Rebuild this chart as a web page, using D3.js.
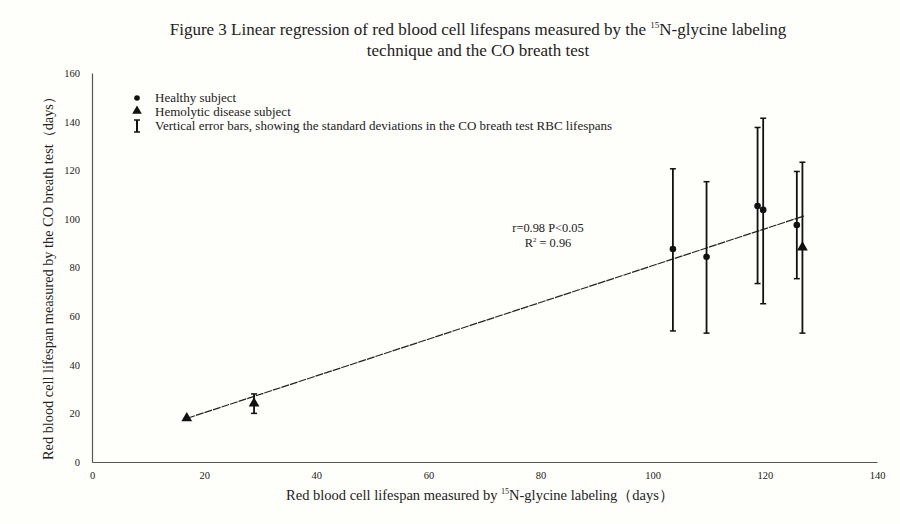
<!DOCTYPE html>
<html>
<head>
<meta charset="utf-8">
<script src="https://cdn.jsdelivr.net/npm/d3@7"></script>
<style>
  body { margin: 0; background: #fefefb; }
  text { font-family: "Liberation Serif", "DejaVu Serif", serif; fill: #222; }
</style>
</head>
<body>
<script>
// Data
const healthyX = [103.6, 109.6, 118.7, 119.7, 125.7];
const healthyY = [87.6, 84.4, 105.3, 103.7, 97.5];
const healthyLo = [53.9, 53.0, 73.4, 65.1, 75.4];
const healthyHi = [120.6, 115.3, 137.6, 141.4, 119.5];

const hemoX = [16.9, 28.9, 126.7];
const hemoY = [18.0, 24.1, 88.3];
const hemoLo = [18.0, 20.0, 53.0];
const hemoHi = [18.0, 28.0, 123.3];

const fitX = [17, 127];
const fitY = [18.0, 101.2];

const xTicks = [0, 20, 40, 60, 80, 100, 120, 140];
const yTicks = [0, 20, 40, 60, 80, 100, 120, 140, 160];

const svg = d3.select("body").append("svg")
    .attr("width", 900)
    .attr("height", 524);

const x = d3.scaleLinear().domain([0, 140]).range([92, 877]);
const y = d3.scaleLinear().domain([0, 160]).range([462, 73]);

// Title
const title = svg.append("text")
    .attr("x", 478)
    .attr("y", 35)
    .attr("text-anchor", "middle")
    .style("font-size", "17px");
title.append("tspan").text("Figure 3 Linear regression of red blood cell lifespans measured by the ");
title.append("tspan").text("15").style("font-size", "9px").attr("dy", -7);
title.append("tspan").text("N-glycine labeling").attr("dy", 7);
svg.append("text")
    .attr("x", 478)
    .attr("y", 56)
    .attr("text-anchor", "middle")
    .style("font-size", "17px")
    .text("technique and the CO breath test");

// Axes
const xAxis = svg.append("g")
    .attr("transform", "translate(0,462)")
    .call(d3.axisBottom(x).tickValues(xTicks).tickSize(0).tickPadding(10));
const yAxis = svg.append("g")
    .attr("transform", "translate(92,0)")
    .call(d3.axisLeft(y).tickValues(yTicks).tickSize(0).tickPadding(12));
[xAxis, yAxis].forEach(g => {
    g.select(".domain").attr("stroke", "#555").attr("stroke-width", 1.2);
    g.selectAll("text")
        .style("font-family", "Liberation Serif, serif")
        .style("font-size", "10.5px")
        .attr("fill", "#333");
});

// Axis labels
const xl = svg.append("text")
    .attr("x", 480)
    .attr("y", 500)
    .attr("text-anchor", "middle")
    .style("font-size", "14.5px");
xl.append("tspan").text("Red blood cell lifespan measured by ");
xl.append("tspan").text("15").style("font-size", "8px").attr("dy", -6);
xl.append("tspan").text("N-glycine labeling（days）").attr("dy", 6);

svg.append("text")
    .attr("transform", "translate(53,275) rotate(-90)")
    .attr("text-anchor", "middle")
    .style("font-size", "14.3px")
    .text("Red blood cell lifespan measured by the CO breath test（days）");

// Regression line
svg.append("line")
    .attr("x1", x(fitX[0])).attr("y1", y(fitY[0]))
    .attr("x2", x(fitX[1])).attr("y2", y(fitY[1]))
    .attr("stroke", "#222")
    .attr("stroke-width", 1.2)
    .attr("stroke-dasharray", "8,1");

// Error bars
function errorBars(xs, lo, hi, width) {
    xs.forEach((v, i) => {
        if (hi[i] - lo[i] < 0.5) return;
        svg.append("line")
            .attr("x1", x(v)).attr("x2", x(v))
            .attr("y1", y(lo[i])).attr("y2", y(hi[i]))
            .attr("stroke", "#111").attr("stroke-width", width);
        [lo[i], hi[i]].forEach(e => {
            svg.append("line")
                .attr("x1", x(v) - 3).attr("x2", x(v) + 3)
                .attr("y1", y(e)).attr("y2", y(e))
                .attr("stroke", "#111").attr("stroke-width", 1.5);
        });
    });
}
errorBars(healthyX, healthyLo, healthyHi, 1.8);
errorBars(hemoX, hemoLo, hemoHi, 1.8);

// Points
healthyX.forEach((v, i) => {
    svg.append("circle")
        .attr("cx", x(v)).attr("cy", y(healthyY[i]))
        .attr("r", 3.3)
        .style("fill", "#111");
});
const tri = d3.symbol().type(d3.symbolTriangle).size(50);
hemoX.forEach((v, i) => {
    svg.append("path")
        .attr("d", tri())
        .attr("transform", `translate(${x(v)},${y(hemoY[i])})`)
        .style("fill", "#111");
});

// Annotation
svg.append("text")
    .attr("x", 548).attr("y", 232)
    .attr("text-anchor", "middle")
    .style("font-size", "12.4px")
    .text("r=0.98 P<0.05");
const r2 = svg.append("text")
    .attr("x", 548).attr("y", 247)
    .attr("text-anchor", "middle")
    .style("font-size", "12.4px");
r2.append("tspan").text("R");
r2.append("tspan").text("2").style("font-size", "7px").attr("dy", -5);
r2.append("tspan").text(" = 0.96").attr("dy", 5);

// Legend
const legend = svg.append("g").attr("transform", "translate(137,0)");
legend.append("circle").attr("cx", 0).attr("cy", 98).attr("r", 2.8).style("fill", "#111");
legend.append("path").attr("d", d3.symbol().type(d3.symbolTriangle).size(40)())
    .attr("transform", "translate(0,111)").style("fill", "#111");
legend.append("line").attr("x1", 0).attr("x2", 0).attr("y1", 120).attr("y2", 132)
    .attr("stroke", "#111").attr("stroke-width", 2);
[120, 132].forEach(e => legend.append("line").attr("x1", -3).attr("x2", 3)
    .attr("y1", e).attr("y2", e).attr("stroke", "#111").attr("stroke-width", 1.5));
const legendText = [
    "Healthy subject",
    "Hemolytic disease subject",
    "Vertical error bars, showing the standard deviations in the CO breath test RBC lifespans"
];
legendText.forEach((t, i) => {
    legend.append("text")
        .attr("x", 18).attr("y", 102 + i * 14)
        .style("font-size", "13px")
        .text(t);
});
</script>
</body>
</html>
